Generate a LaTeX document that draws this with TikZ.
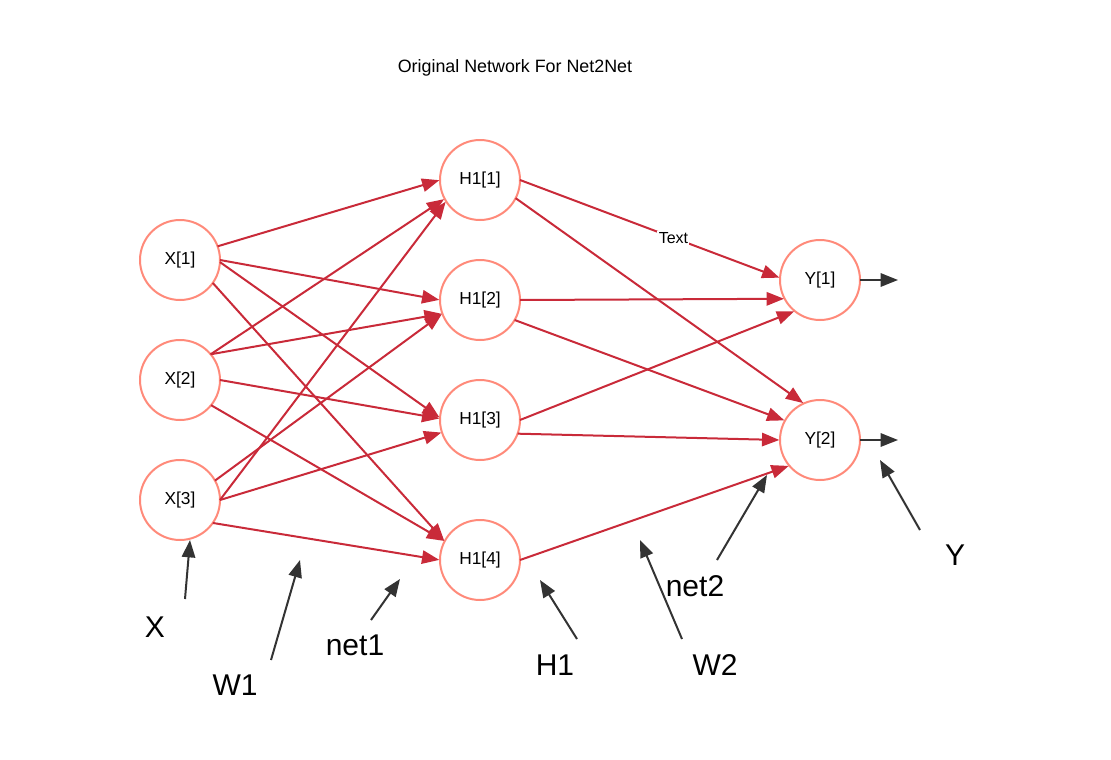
\documentclass[tikz,border=0pt]{standalone}
\usepackage{fontspec}
\setmainfont{Liberation Sans}
\usetikzlibrary{arrows.meta}
\definecolor{edgered}{RGB}{201,42,57}
\definecolor{nodeline}{RGB}{255,138,122}
\definecolor{darkarrow}{RGB}{51,51,51}
\tikzset{
  neuron/.style={circle, draw=nodeline, line width=1.5pt, minimum size=60pt, inner sep=0pt, outer sep=0pt, fill=white, font=\fontsize{13}{15}\selectfont},
  wedge/.style={draw=edgered, line width=1.5pt, -{Triangle[length=13pt,width=10pt]}, shorten >=0.5pt},
  outarrow/.style={draw=darkarrow, line width=1.5pt, -{Triangle[length=13pt,width=10pt]}},
  biglabel/.style={font=\fontsize{22.5}{26}\selectfont, inner sep=0pt},
  edgelabel/.style={fill=white, inner sep=1pt, font=\fontsize{12}{14}\selectfont}
}
\begin{document}
\begin{tikzpicture}[x=0.75pt, y=-0.75pt]
\useasboundingbox (0,0) rectangle (1111,760);
\node[font=\fontsize{13.4}{15}\selectfont] (title) at (515,68) {Original Network For Net2Net};
% nodes
\node[neuron] (x1) at (180,260) {X[1]};
\node[neuron] (x2) at (180,380) {X[2]};
\node[neuron] (x3) at (180,500) {X[3]};
\node[neuron] (h1) at (480,180) {H1[1]};
\node[neuron] (h2) at (480,300) {H1[2]};
\node[neuron] (h3) at (480,420) {H1[3]};
\node[neuron] (h4) at (480,560) {H1[4]};
\node[neuron] (y1) at (820,280) {Y[1]};
\node[neuron] (y2) at (820,440) {Y[2]};
% input -> hidden
\draw[wedge] (x1.20) -- (h1.180);
\draw[wedge] (x1.0) -- (h2.180);
\draw[wedge] (x1.-3) -- (h3.177);
\draw[wedge] (x1.-35) -- (h4.152);
\draw[wedge] (x2.40) -- (h1.208);
\draw[wedge] (x2.40) -- (h2.200);
\draw[wedge] (x2.0) -- (h3.178);
\draw[wedge] (x2.-39) -- (h4.152);
\draw[wedge] (x3.0) -- (h1.212);
\draw[wedge] (x3.29) -- (h2.200);
\draw[wedge] (x3.0) -- (h3.198);
\draw[wedge] (x3.-35) -- (h4.180);
% hidden -> output
\draw[wedge] (h1.0) -- node[edgelabel, pos=0.59] (txt) {Text} (y1.177);
\draw[wedge] (h1.-27) -- (y2.114);
\draw[wedge] (h2.0) -- (y1.208);
\draw[wedge] (h2.-30) -- (y2.151);
\draw[wedge] (h3.0) -- (y1.231);
\draw[wedge] (h3.-20) -- (y2.180);
\draw[wedge] (h4.0) -- (y2.220);
% outputs
\coordinate (o1) at (898,280);
\coordinate (o2) at (898,440);
\draw[outarrow] (y1.0) -- (o1);
\draw[outarrow] (y2.0) -- (o2);
% annotation labels
\node[biglabel] (lx) at (155,627) {X};
\node[biglabel] (lw1) at (235,685) {W1};
\node[biglabel] (lnet1) at (355,645) {net1};
\node[biglabel] (lh1) at (555,665) {H1};
\node[biglabel] (lw2) at (715,665) {W2};
\node[biglabel] (lnet2) at (695,586) {net2};
\node[biglabel] (ly) at (955,555) {Y};
% annotation arrows
\coordinate (ax0) at (185,599); \coordinate (ax1) at (190,540);
\coordinate (aw10) at (271,660); \coordinate (aw11) at (300,560);
\coordinate (an10) at (371,620); \coordinate (an11) at (400,579);
\coordinate (ah0) at (577,639); \coordinate (ah1) at (540,580);
\coordinate (aw20) at (682,639); \coordinate (aw21) at (640,540);
\coordinate (an20) at (717,560); \coordinate (an21) at (767,475);
\coordinate (ay0) at (920,530); \coordinate (ay1) at (880,460);
\draw[outarrow] (ax0) -- (ax1);
\draw[outarrow] (aw10) -- (aw11);
\draw[outarrow] (an10) -- (an11);
\draw[outarrow] (ah0) -- (ah1);
\draw[outarrow] (aw20) -- (aw21);
\draw[outarrow] (an20) -- (an21);
\draw[outarrow] (ay0) -- (ay1);
\end{tikzpicture}
\end{document}
